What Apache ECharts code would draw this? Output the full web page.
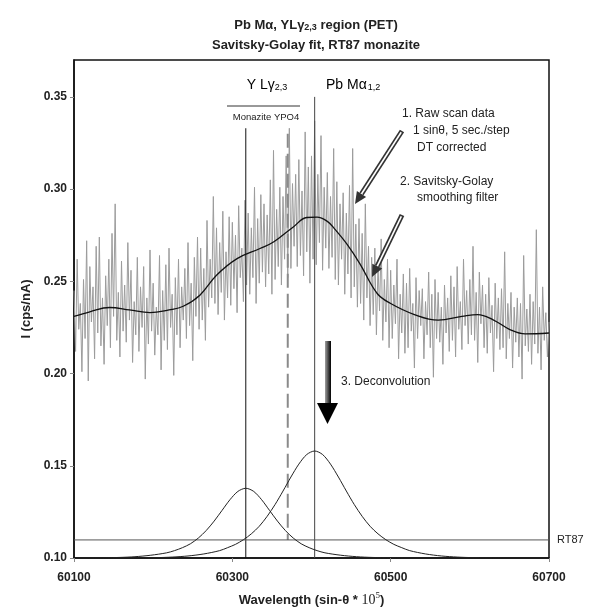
<!DOCTYPE html>
<html><head><meta charset="utf-8">
<script src="https://cdn.jsdelivr.net/npm/echarts@6/dist/echarts.min.js"></script>
<style>html,body{margin:0;padding:0;background:#fff}#c{width:590px;height:615px}</style>
</head><body><div id="c"></div>
<script>
// ---- data ----
const xTickLabels = [60100, 60300, 60500, 60700];
const yTickLabels = [0.10, 0.15, 0.20, 0.25, 0.30, 0.35];
const rawStart = 60100, rawStep = 2;
const rawY = [
.245,.212,.262,.224,.238,.201,.251,.219,.272,.196,
.258,.228,.247,.208,.269,.222,.274,.215,.241,.205,
.253,.226,.262,.214,.276,.231,.292,.218,.244,.209,
.261,.223,.248,.217,.271,.229,.256,.206,.239,.221,
.263,.212,.247,.225,.258,.197,.241,.216,.267,.223,
.249,.210,.236,.221,.264,.202,.245,.218,.259,.213,
.268,.225,.243,.199,.252,.221,.262,.214,.247,.229,
.257,.219,.271,.226,.249,.207,.263,.231,.274,.224,
.268,.229,.257,.218,.283,.236,.262,.241,.296,.238,
.279,.232,.271,.244,.288,.229,.266,.241,.285,.237,
.282,.246,.275,.233,.291,.252,.268,.239,.294,.248,
.287,.243,.279,.252,.301,.238,.284,.249,.297,.255,
.292,.247,.286,.254,.305,.243,.321,.251,.289,.258,
.301,.248,.296,.262,.318,.252,.333,.257,.303,.269,
.308,.258,.316,.264,.299,.253,.331,.266,.312,.249,
.318,.262,.337,.259,.308,.271,.329,.256,.301,.268,
.309,.257,.296,.263,.322,.251,.304,.248,.292,.262,
.298,.243,.287,.254,.302,.241,.322,.247,.281,.236,
.284,.238,.276,.229,.292,.241,.269,.226,.263,.232,
.268,.221,.259,.234,.273,.218,.251,.228,.262,.214,
.256,.219,.248,.227,.262,.208,.243,.222,.254,.211,
.249,.214,.257,.223,.238,.203,.252,.219,.245,.226,
.246,.208,.239,.221,.255,.214,.243,.198,.251,.219,
.244,.217,.236,.205,.248,.222,.241,.212,.253,.218,
.247,.209,.258,.224,.239,.213,.262,.226,.245,.216,
.251,.221,.269,.218,.244,.206,.255,.227,.248,.214,
.243,.211,.252,.222,.237,.201,.249,.219,.241,.213,
.246,.214,.266,.208,.238,.219,.244,.203,.236,.217,
.241,.209,.238,.197,.264,.215,.235,.212,.243,.205,
.239,.216,.278,.211,.236,.202,.247,.218,.233,.209,
.228];
const smoothX = [60100,60120,60145,60170,60196,60220,60238,60259,60280,60306,60335,60352,60377,60394,60407,60420,60430,60445,60461,60483,60500,60530,60560,60590,60610,60630,60650,60670,60700];
const smoothY = [.231,.2335,.2358,.2345,.233,.2345,.2365,.2425,.2533,.2623,.2678,.2713,.2795,.2846,.2848,.2825,.278,.270,.2596,.2434,.238,.232,.229,.231,.232,.229,.224,.2215,.222];
const ylPeakX = [60117,60157,60177,60197,60217,60227,60237,60247,60257,60267,60277,60287,60297,60307,60317,60327,60337,60347,60357,60367,60377,60387,60397,60407,60417,60437,60457,60477,60517];
const ylPeakY = [.1000,.1003,.1007,.1015,.1028,.1040,.1056,.1077,.1108,.1149,.1200,.1258,.1316,.1361,.1378,.1361,.1316,.1258,.1200,.1149,.1108,.1077,.1056,.1040,.1028,.1015,.1007,.1003,.1000];
const pbPeakX = [60164,60204,60224,60244,60264,60284,60294,60304,60314,60324,60334,60344,60354,60364,60374,60384,60394,60404,60414,60424,60434,60444,60454,60464,60474,60484,60494,60504,60514,60524,60544,60564,60584,60604,60644];
const pbPeakY = [.1000,.1002,.1005,.1011,.1022,.1040,.1056,.1074,.1099,.1131,.1172,.1226,.1290,.1363,.1439,.1509,.1561,.1580,.1561,.1509,.1439,.1363,.1290,.1226,.1172,.1131,.1099,.1074,.1056,.1040,.1022,.1011,.1005,.1002,.1000];
const ylLineX = 60317, ylLineTop = 0.333;
const pbLineX = 60404, pbLineTop = 0.35;
const dashLineX = 60370, dashLineTop = 0.33;
const rt87Level = 0.1098;
const yMin = 0.10, yMax = 0.37;

// ---- chart ----
const chart = echarts.init(document.getElementById('c'), null, {renderer: 'canvas'});
const F = 'Liberation Sans, Arial, sans-serif';

function arrow(x1, y1, x2, y2) {
  const dx = x2 - x1, dy = y2 - y1, L = Math.hypot(dx, dy);
  const ux = dx / L, uy = dy / L, px = -uy, py = ux;
  const hl = 12, hw = 5.5;
  const bx = x2 - ux * hl, by = y2 - uy * hl;
  return [
    {type: 'line', shape: {x1: x1, y1: y1, x2: bx, y2: by}, style: {stroke: '#333', lineWidth: 5}, z: 100},
    {type: 'line', shape: {x1: x1 + ux * 1.5, y1: y1 + uy * 1.5, x2: bx + ux, y2: by + uy}, style: {stroke: '#fff', lineWidth: 1.6}, z: 101},
    {type: 'polygon', shape: {points: [[x2, y2], [bx + px * hw, by + py * hw], [bx - px * hw, by - py * hw]]}, style: {fill: '#333'}, z: 102}
  ];
}

const txt = (x, y, text, extra) => Object.assign({type: 'text', x: x, y: y, z: 110,
  style: Object.assign({text: text, font: '12px ' + F, fill: '#222', textVerticalAlign: 'middle'}, extra || {})});

const graphics = [
  {type: 'text', x: 267, y: 85, z: 110, style: {text: '{n|Y L}{g|γ}{s|2,3}', textAlign: 'center', textVerticalAlign: 'middle',
    rich: {n: {fontSize: 14, fontFamily: F, color: '#222'}, g: {fontSize: 14, fontFamily: F, color: '#222'},
           s: {fontSize: 9, fontFamily: F, color: '#222', padding: [6, 0, 0, 0]}}}},
  {type: 'line', shape: {x1: 227, y1: 106, x2: 300, y2: 106}, style: {stroke: '#333', lineWidth: 1}, z: 110},
  txt(266, 117, 'Monazite YPO4', {font: '9.5px ' + F, textAlign: 'center'}),
  {type: 'text', x: 326, y: 85, z: 110, style: {text: '{n|Pb M}{g|α}{s|1,2}', textAlign: 'left', textVerticalAlign: 'middle',
    rich: {n: {fontSize: 14, fontFamily: F, color: '#222'}, g: {fontSize: 14, fontFamily: F, color: '#222'},
           s: {fontSize: 9, fontFamily: F, color: '#222', padding: [6, 0, 0, 1]}}}},
  txt(402, 114, '1. Raw scan data'),
  txt(413, 131, '1 sinθ, 5 sec./step'),
  txt(417, 148, 'DT corrected'),
  txt(400, 182, '2. Savitsky-Golay'),
  txt(417, 198, 'smoothing filter'),
  txt(341, 382, '3. Deconvolution'),
  txt(557, 540, 'RT87', {font: '11px ' + F}),
  {type: 'rect', shape: {x: 325, y: 341, width: 6, height: 63}, z: 105,
   style: {fill: new echarts.graphic.LinearGradient(0, 0, 1, 0, [{offset: 0, color: '#a0a0a0'}, {offset: 1, color: '#000'}])}},
  {type: 'polygon', shape: {points: [[317, 403], [338, 403], [327.5, 424]]}, style: {fill: '#000'}, z: 105}
].concat(arrow(402, 131, 355, 204), arrow(402, 215, 372, 277));

const vline = (x, top, bottom) => [[x, top], [x, bottom]];

chart.setOption({
  animation: false,
  backgroundColor: '#fff',
  title: {
    left: 311, top: 10, textAlign: 'center',
    text: '{b|Pb M}{b|α}{b|, YL}{b|γ}{s|2,3}{b| region (PET)}\n{b|Savitsky-Golay fit, RT87 monazite}',
    textStyle: {rich: {
      b: {fontSize: 13, fontWeight: 'bold', fontFamily: F, color: '#222', lineHeight: 20},
      s: {fontSize: 9, fontWeight: 'bold', fontFamily: F, color: '#222', lineHeight: 20, padding: [5, 0, 0, 0]}
    }}
  },
  grid: {left: 74, right: 41, top: 60, bottom: 57, show: true, borderColor: '#111', borderWidth: 1.5},
  xAxis: {
    type: 'value', min: 60100, max: 60700, interval: 200,
    name: '{b|Wavelength (sin-θ * }{r|10}{sup|5}{b|)}', nameLocation: 'middle', nameGap: 33,
    nameTextStyle: {rich: {
      b: {fontSize: 13, fontWeight: 'bold', fontFamily: F, color: '#222'},
      r: {fontSize: 14, fontFamily: 'Liberation Serif, serif', color: '#222'},
      sup: {fontSize: 9, fontFamily: 'Liberation Serif, serif', color: '#222', padding: [0, 0, 9, 0]}
    }},
    axisLine: {lineStyle: {color: '#111', width: 1.5}},
    axisTick: {show: true, length: 4, lineStyle: {color: '#888'}},
    axisLabel: {fontSize: 12, fontWeight: 'bold', fontFamily: F, color: '#222', margin: 14,
      formatter: v => xTickLabels.includes(v) ? String(v) : ''},
    splitLine: {show: false}
  },
  yAxis: {
    type: 'value', min: yMin, max: yMax, interval: 0.05,
    name: 'I (cps/nA)', nameLocation: 'middle', nameGap: 40,
    nameTextStyle: {fontSize: 13, fontWeight: 'bold', fontFamily: F, color: '#222'},
    axisLine: {show: true, lineStyle: {color: '#111', width: 1.5}},
    axisTick: {show: true, length: 4, lineStyle: {color: '#888'}},
    axisLabel: {fontSize: 12, fontWeight: 'bold', fontFamily: F, color: '#222', margin: 7, showMaxLabel: false,
      formatter: v => yTickLabels.some(t => Math.abs(t - v) < 1e-6) ? v.toFixed(2) : ''},
    splitLine: {show: false}
  },
  series: [
    {type: 'line', name: 'raw', symbol: 'none', lineStyle: {color: '#9c9c9c', width: 1}, z: 2,
     data: rawY.map((v, i) => [rawStart + i * rawStep, v])},
    {type: 'line', name: 'smooth', symbol: 'none', smooth: 0.4, lineStyle: {color: '#111', width: 1.3}, z: 5,
     data: smoothX.map((x, i) => [x, smoothY[i]])},
    {type: 'line', name: 'YL', symbol: 'none', lineStyle: {color: '#111', width: 1}, z: 4, data: vline(ylLineX, ylLineTop, yMin)},
    {type: 'line', name: 'Pb', symbol: 'none', lineStyle: {color: '#444', width: 1}, z: 4, data: vline(pbLineX, pbLineTop, yMin)},
    {type: 'line', name: 'dash', symbol: 'none', lineStyle: {color: '#8a8a8a', width: 2, type: [14, 6]}, z: 4, data: vline(dashLineX, dashLineTop, rt87Level)},
    {type: 'line', name: 'RT87', symbol: 'none', lineStyle: {color: '#555', width: 1}, z: 4,
     data: [[60100, rt87Level], [60700, rt87Level]]},
    {type: 'line', name: 'ylPeak', symbol: 'none', smooth: 0.3, lineStyle: {color: '#222', width: 1}, z: 6,
     data: ylPeakX.map((x, i) => [x, ylPeakY[i]])},
    {type: 'line', name: 'pbPeak', symbol: 'none', smooth: 0.3, lineStyle: {color: '#222', width: 1}, z: 6,
     data: pbPeakX.map((x, i) => [x, pbPeakY[i]])}
  ],
  graphic: graphics
});
</script></body></html>
